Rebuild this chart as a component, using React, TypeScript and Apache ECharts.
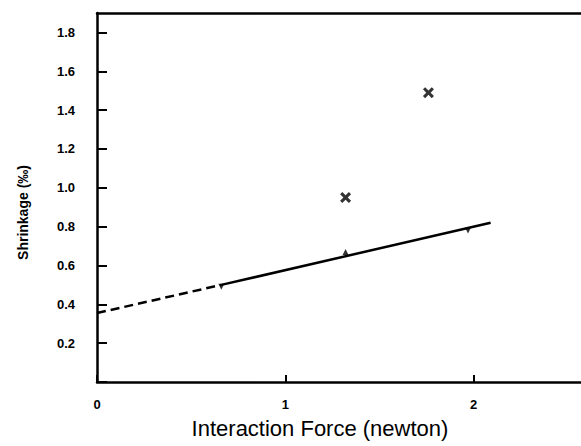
import React, { useEffect, useRef } from "react";
import * as echarts from "echarts";

// Data
const crossPoints: [number, number][] = [
  [1.32, 0.95],
  [1.76, 1.49],
];
const lineDownMarks: [number, number][] = [
  [0.66, 0.49],
  [1.97, 0.78],
];
const lineUpMarks: [number, number][] = [[1.32, 0.67]];
const fitDashed: [number, number][] = [
  [0, 0.355],
  [0.66, 0.5],
];
const fitSolid: [number, number][] = [
  [0.66, 0.5],
  [2.09, 0.82],
];
const xTicks = [0, 1, 2];
const yTicks = [0.2, 0.4, 0.6, 0.8, 1.0, 1.2, 1.4, 1.6, 1.8];

const X_PATH =
  "path://M2,0 L5,3 L8,0 L10,2 L7,5 L10,8 L8,10 L5,7 L2,10 L0,8 L3,5 L0,2 Z";

export default function App() {
  const ref = useRef<HTMLDivElement>(null);
  useEffect(() => {
    document.body.style.margin = "0";
    const chart = echarts.init(ref.current!, null, { renderer: "svg" });
    const font = "Liberation Sans, Arial, sans-serif";
    const isTick = (arr: number[], v: number) =>
      arr.some((t) => Math.abs(t - v) < 1e-6);
    chart.setOption({
      animation: false,
      backgroundColor: "#ffffff",
      grid: { left: 97, right: 0, top: 13, bottom: 64, containLabel: false },
      xAxis: [
        {
          type: "value",
          min: 0,
          max: 2.57,
          interval: 1,
          name: "Interaction Force (newton)",
          nameLocation: "middle",
          nameGap: 35,
          nameTextStyle: {
            fontFamily: font,
            fontSize: 22,
            color: "#000",
            padding: [0, 38, 0, 0],
          },
          axisLine: { show: true, lineStyle: { color: "#000", width: 2.5 } },
          axisTick: {
            show: true,
            inside: true,
            length: 7,
            lineStyle: { color: "#000", width: 2 },
          },
          axisLabel: {
            margin: 16,
            color: "#000",
            fontFamily: font,
            fontWeight: "bold",
            fontSize: 13,
            showMaxLabel: false,
            formatter: (v: number) => (isTick(xTicks, v) ? String(v) : ""),
          },
          splitLine: { show: false },
        },
        {
          type: "value",
          position: "top",
          min: 0,
          max: 2.57,
          axisLine: { show: true, lineStyle: { color: "#000", width: 2.5 } },
          axisTick: { show: false },
          axisLabel: { show: false },
          splitLine: { show: false },
        },
      ],
      yAxis: {
        type: "value",
        min: 0,
        max: 1.9,
        interval: 0.2,
        name: "Shrinkage (‰)",
        nameLocation: "middle",
        nameGap: 67,
        nameTextStyle: {
          fontFamily: font,
          fontSize: 14,
          fontWeight: "bold",
          color: "#000",
          padding: [0, 30, 0, 0],
        },
        axisLine: { show: true, lineStyle: { color: "#000", width: 2.5 } },
        axisTick: {
          show: true,
          inside: true,
          length: 10,
          lineStyle: { color: "#000", width: 2 },
        },
        axisLabel: {
          margin: 22,
          color: "#000",
          fontFamily: font,
          fontWeight: "bold",
          fontSize: 13,
          showMaxLabel: false,
          formatter: (v: number) => (isTick(yTicks, v) ? v.toFixed(1) : ""),
        },
        splitLine: { show: false },
      },
      series: [
        {
          type: "line",
          data: fitDashed,
          symbol: "none",
          lineStyle: { color: "#000", width: 2.5, type: [9, 5] },
          silent: true,
        },
        {
          type: "line",
          data: fitSolid,
          symbol: "none",
          lineStyle: { color: "#000", width: 2.5 },
          silent: true,
        },
        {
          type: "scatter",
          data: crossPoints,
          symbol: X_PATH,
          symbolSize: 11,
          itemStyle: { color: "#000" },
        },
        {
          type: "scatter",
          data: lineDownMarks,
          symbol: "triangle",
          symbolRotate: 180,
          symbolSize: 6,
          itemStyle: { color: "#000" },
        },
        {
          type: "scatter",
          data: lineUpMarks,
          symbol: "triangle",
          symbolSize: 6,
          itemStyle: { color: "#000" },
        },
      ],
    });
    return () => chart.dispose();
  }, []);
  return <div ref={ref} style={{ width: 581, height: 446 }} />;
}
